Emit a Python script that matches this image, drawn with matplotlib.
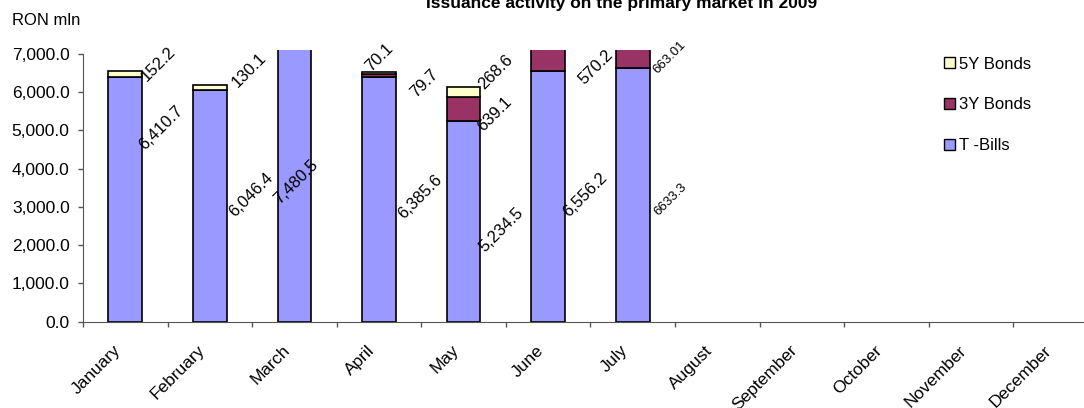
import numpy as np
import matplotlib
matplotlib.use("Agg")
import matplotlib.pyplot as plt
from matplotlib.patches import Patch
from matplotlib.transforms import ScaledTranslation

plt.rcParams['font.family'] = ['Liberation Sans', 'DejaVu Sans']

months = ['January', 'February', 'March', 'April', 'May', 'June', 'July',
          'August', 'September', 'October', 'November', 'December']

# issued amounts, RON mln (January .. July)
t_bills = [6410.7, 6046.4, 7480.5, 6385.6, 5234.5, 6556.2, 6633.3]
bonds_3y = [0, 0, 0, 79.7, 639.1, 570.2, 663.01]
bonds_5y = [152.2, 130.1, 0, 70.1, 268.6, 0, 0]

# data labels as they stand on the chart (moved by hand in the original)
lab_month = [0, 0, 1, 1, 2, 3, 3, 3, 4, 4, 4, 5, 5, 6, 6]
lab_text = ['152.2', '6,410.7', '130.1', '6,046.4', '7,480.5', '70.1', '79.7',
            '6,385.6', '268.6', '639.1', '5,234.5', '570.2', '6,556.2',
            '663.01', '6633.3']
lab_dx = [0.387, 0.422, 0.463, 0.486, 0.019, 0.0, 0.532, 0.485, 0.384,
          0.372, 0.443, 0.566, 0.436, 0.441, 0.453]
lab_y = [6741, 5065, 6584, 3312, 3652, 6924, 6243, 3259, 6532, 5432, 2395,
         6662, 3312, 6898, 3181]
lab_size = [12] * 13 + [9.5, 9.5]

c_tb = '#9999FF'
c_3y = '#993366'
c_5y = '#FFFFCC'
axis_col = '#555555'

fig = plt.figure(figsize=(10.84, 4.08), dpi=100)
ax = fig.add_axes([83 / 1084, 86.5 / 408, 1014.8 / 1084, 271.5 / 408])

x = np.arange(len(t_bills))
w = 0.4
tb = np.array(t_bills)
b3 = np.array(bonds_3y)
b5 = np.array(bonds_5y)
ax.bar(x, tb, w, color=c_tb, edgecolor='black', linewidth=1.2)
ax.bar(x, b3, w, bottom=tb, color=c_3y, edgecolor='black', linewidth=1.2)
ax.bar(x, b5, w, bottom=tb + b3, color=c_5y, edgecolor='black', linewidth=1.2)

for m, t, dx, yy, s in zip(lab_month, lab_text, lab_dx, lab_y, lab_size):
    ax.text(m + dx, yy, t, rotation=45, ha='center', va='center', fontsize=s)

ax.set_xlim(-0.5, len(months) - 0.5)
ax.set_ylim(0, 7105)
ax.set_yticks(np.arange(0, 7001, 1000))
ax.set_yticklabels(['{:,.1f}'.format(v) for v in np.arange(0, 7001, 1000)])
ax.tick_params(axis='y', labelsize=12.5, length=3.6, width=1, color=axis_col, pad=6)

ax.set_xticks(np.arange(len(months)))
ax.set_xticklabels(months)
ax.set_xticks(np.arange(len(months) + 1) - 0.5, minor=True)
ax.tick_params(axis='x', which='major', length=0, labelsize=12.5, pad=19)
ax.tick_params(axis='x', which='minor', length=3.6, width=1, color=axis_col)
shift = ScaledTranslation(-0.07, 0, fig.dpi_scale_trans)
for lb in ax.get_xticklabels():
    lb.set_rotation(45)
    lb.set_ha('right')
    lb.set_va('center')
    lb.set_rotation_mode('anchor')
    lb.set_transform(lb.get_transform() + shift)

for sp in ['top', 'right']:
    ax.spines[sp].set_visible(False)
ax.spines['left'].set_bounds(0, 7000)
ax.spines['left'].set_color(axis_col)
ax.spines['bottom'].set_color(axis_col)

handles = [Patch(facecolor=c_5y, edgecolor='black', label='5Y Bonds'),
           Patch(facecolor=c_3y, edgecolor='black', label='3Y Bonds'),
           Patch(facecolor=c_tb, edgecolor='black', label='T -Bills')]
fig.legend(handles=handles, loc='center left', bbox_to_anchor=(944 / 1084, 1 - 105 / 408),
           frameon=False, fontsize=12, handlelength=0.65, handleheight=0.65,
           handletextpad=0.25, labelspacing=1.55, borderpad=0, borderaxespad=0)

fig.text(12 / 1084, 1 - 25 / 408, 'RON mln', fontsize=12, va='baseline')
fig.text(621.5 / 1084, 1 - 8 / 408, 'Issuance activity on the primary market in 2009',
         fontsize=12.5, weight='bold', ha='center', va='baseline')

fig.savefig('out.png', dpi=100)
